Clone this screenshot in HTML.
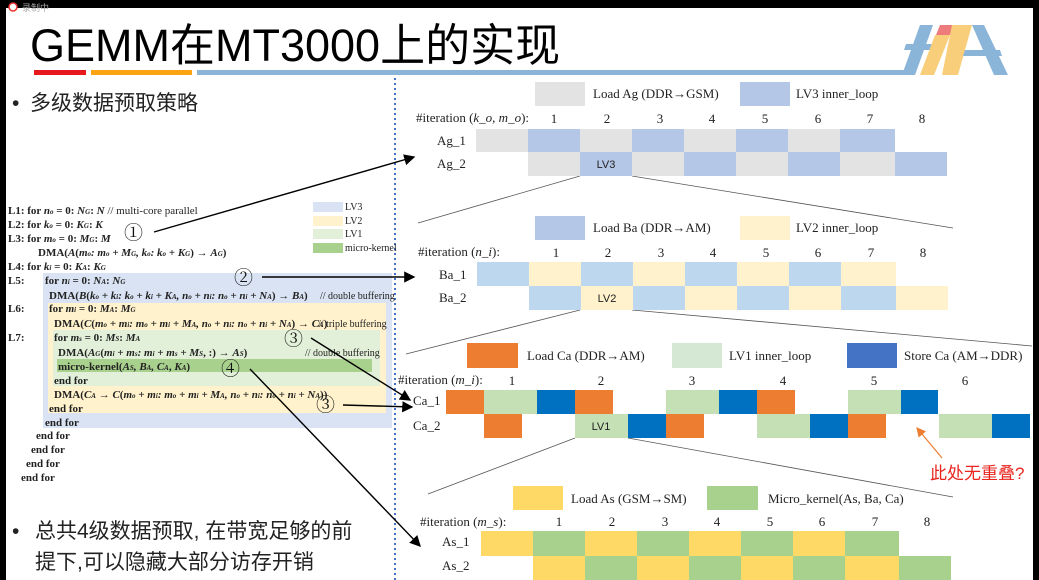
<!DOCTYPE html>
<html><head><meta charset="utf-8"><style>
html,body{margin:0;padding:0;background:#000;}
svg{display:block}
text{font-family:"Liberation Serif","Noto Serif CJK SC",serif}
text:not([fill]){fill:#222}
.s{font-family:"Liberation Sans","Noto Sans CJK SC",sans-serif}
.c{font-size:11px;font-weight:bold}
.l{font-size:13px}
</style></head><body>
<svg width="1039" height="580" viewBox="0 0 1039 580" xmlns="http://www.w3.org/2000/svg">
<rect x="6" y="0" width="1027" height="580" fill="#fff"/>
<rect x="0" y="0" width="1039" height="8" fill="#000"/>
<circle cx="13" cy="7" r="4" fill="#fff" stroke="#e33" stroke-width="1.5"/>
<text x="22" y="11" class="s" font-size="9" fill="#aaa">录制中</text>
<text x="30" y="61" class="s" font-size="45" fill="#000">GEMM在MT3000上的实现</text>
<rect x="34" y="70" width="52" height="5" fill="#e8191d"/>
<rect x="91" y="70" width="101" height="5" fill="#fca411"/>
<rect x="197" y="70" width="710" height="5" fill="#8ab4d8"/>
<polygon points="920,25 933,25 915,75 902,75" fill="#8ab4d8"/>
<polygon points="906,44 940,44 938,50 904,50" fill="#8ab4d8"/>
<polygon points="940,25 954,25 950,35 936,35" fill="#ee7c7c"/>
<polygon points="935,35 950,35 934,75 920,75" fill="#f9ce7b"/>
<polygon points="952,25 962,25 952,75 942,75" fill="#f9ce7b"/>
<polygon points="962,25 972,25 958,75 946,75" fill="#f9ce7b"/>
<polygon points="972,25 984,25 1008,75 994,75" fill="#8ab4d8"/>
<polygon points="965,50 1000,50 1002,56 963,56" fill="#8ab4d8"/>
<line x1="395" y1="78" x2="395" y2="580" stroke="#4472c4" stroke-width="2" stroke-dasharray="2,3"/>
<text x="12" y="110" class="s" font-size="21" fill="#222">• <tspan x="30">多级数据预取策略</tspan></text>
<text x="12" y="538" class="s" font-size="21" fill="#222">• <tspan x="35">总共4级数据预取, 在带宽足够的前</tspan></text>
<text x="35" y="569" class="s" font-size="21" fill="#222">提下,可以隐藏大部分访存开销</text>
<rect x="43" y="273" width="349" height="155" fill="#dae3f3"/>
<rect x="48" y="303" width="338" height="110" fill="#fff2cc"/>
<rect x="53" y="330" width="327" height="56" fill="#e2f0d9"/>
<rect x="57" y="359" width="315" height="13" fill="#a9d18e"/>
<rect x="313" y="202" width="30" height="10" fill="#dae3f3"/>
<rect x="313" y="216" width="30" height="10" fill="#fff2cc"/>
<rect x="313" y="229" width="30" height="10" fill="#e2f0d9"/>
<rect x="313" y="243" width="30" height="10" fill="#a9d18e"/>
<text x="345" y="210" font-size="10">LV3</text>
<text x="345" y="224" font-size="10">LV2</text>
<text x="345" y="237" font-size="10">LV1</text>
<text x="345" y="251" font-size="10">micro-kernel</text>
<g>
<text x="8" y="214" class="c">L1: for <tspan font-style="italic">n<tspan font-size="7">o</tspan></tspan> = 0: <tspan font-style="italic">N<tspan font-size="7">G</tspan></tspan>: <tspan font-style="italic">N</tspan><tspan font-weight="normal">      // multi-core parallel</tspan></text>
<text x="8" y="228" class="c">L2:  for <tspan font-style="italic">k<tspan font-size="7">o</tspan></tspan> = 0: <tspan font-style="italic">K<tspan font-size="7">G</tspan></tspan>: <tspan font-style="italic">K</tspan></text>
<text x="8" y="242" class="c">L3:   for <tspan font-style="italic">m<tspan font-size="7">o</tspan></tspan> = 0: <tspan font-style="italic">M<tspan font-size="7">G</tspan></tspan>: <tspan font-style="italic">M</tspan></text>
<text x="38" y="256" class="c" font-weight="normal">DMA(<tspan font-weight="bold" font-style="italic">A</tspan>(<tspan font-style="italic">m<tspan font-size="7">o</tspan>: m<tspan font-size="7">o</tspan> + M<tspan font-size="7">G</tspan>,  k<tspan font-size="7">o</tspan>: k<tspan font-size="7">o</tspan> + K<tspan font-size="7">G</tspan></tspan>) → <tspan font-weight="bold" font-style="italic">A<tspan font-size="7">G</tspan></tspan>)</text>
<text x="8" y="270" class="c">L4:       for <tspan font-style="italic">k<tspan font-size="7">i</tspan></tspan> = 0: <tspan font-style="italic">K<tspan font-size="7">A</tspan></tspan>: <tspan font-style="italic">K<tspan font-size="7">G</tspan></tspan></text>
<text x="8" y="284" class="c">L5:</text><text x="45" y="284" class="c">for <tspan font-style="italic">n<tspan font-size="7">i</tspan></tspan> = 0: <tspan font-style="italic">N<tspan font-size="7">A</tspan></tspan>: <tspan font-style="italic">N<tspan font-size="7">G</tspan></tspan></text>
<text x="49" y="299" class="c" font-weight="normal">DMA(<tspan font-weight="bold" font-style="italic">B</tspan>(<tspan font-style="italic">k<tspan font-size="7">o</tspan> + k<tspan font-size="7">i</tspan>: k<tspan font-size="7">o</tspan> + k<tspan font-size="7">i</tspan> + K<tspan font-size="7">A</tspan>,  n<tspan font-size="7">o</tspan> + n<tspan font-size="7">i</tspan>: n<tspan font-size="7">o</tspan> + n<tspan font-size="7">i</tspan> + N<tspan font-size="7">A</tspan></tspan>) → <tspan font-weight="bold" font-style="italic">B<tspan font-size="7">A</tspan></tspan>)</text>
<text x="320" y="299" font-size="10">// double buffering</text>
<text x="8" y="312" class="c">L6:</text><text x="49" y="312" class="c">for <tspan font-style="italic">m<tspan font-size="7">i</tspan></tspan> = 0: <tspan font-style="italic">M<tspan font-size="7">A</tspan></tspan>: <tspan font-style="italic">M<tspan font-size="7">G</tspan></tspan></text>
<text x="54" y="327" class="c" font-weight="normal">DMA(<tspan font-weight="bold" font-style="italic">C</tspan>(<tspan font-style="italic">m<tspan font-size="7">o</tspan> + m<tspan font-size="7">i</tspan>: m<tspan font-size="7">o</tspan> + m<tspan font-size="7">i</tspan> + M<tspan font-size="7">A</tspan>,  n<tspan font-size="7">o</tspan> + n<tspan font-size="7">i</tspan>: n<tspan font-size="7">o</tspan> + n<tspan font-size="7">i</tspan> + N<tspan font-size="7">A</tspan></tspan>) → <tspan font-weight="bold" font-style="italic">C<tspan font-size="7">A</tspan></tspan>)</text>
<text x="318" y="327" font-size="10">// triple buffering</text>
<text x="8" y="341" class="c">L7:</text><text x="54" y="341" class="c">for <tspan font-style="italic">m<tspan font-size="7">s</tspan></tspan> = 0: <tspan font-style="italic">M<tspan font-size="7">S</tspan></tspan>: <tspan font-style="italic">M<tspan font-size="7">A</tspan></tspan></text>
<text x="58" y="356" class="c" font-weight="normal">DMA(<tspan font-weight="bold" font-style="italic">A<tspan font-size="7">G</tspan></tspan>(<tspan font-style="italic">m<tspan font-size="7">i</tspan> + m<tspan font-size="7">s</tspan>: m<tspan font-size="7">i</tspan> + m<tspan font-size="7">s</tspan> + M<tspan font-size="7">S</tspan></tspan>, :) → <tspan font-weight="bold" font-style="italic">A<tspan font-size="7">S</tspan></tspan>)</text>
<text x="305" y="356" font-size="10">// double buffering</text>
<text x="58" y="370" class="c" font-weight="normal">micro-kernel(<tspan font-weight="bold" font-style="italic">A<tspan font-size="7">S</tspan>, B<tspan font-size="7">A</tspan>, C<tspan font-size="7">A</tspan></tspan>, <tspan font-style="italic">K<tspan font-size="7">A</tspan></tspan>)</text>
<text x="54" y="384" class="c">end for</text>
<text x="54" y="398" class="c" font-weight="normal">DMA(<tspan font-weight="bold" font-style="italic">C<tspan font-size="7">A</tspan></tspan> → <tspan font-weight="bold" font-style="italic">C</tspan>(<tspan font-style="italic">m<tspan font-size="7">o</tspan> + m<tspan font-size="7">i</tspan>: m<tspan font-size="7">o</tspan> + m<tspan font-size="7">i</tspan> + M<tspan font-size="7">A</tspan>,  n<tspan font-size="7">o</tspan> + n<tspan font-size="7">i</tspan>: n<tspan font-size="7">o</tspan> + n<tspan font-size="7">i</tspan> + N<tspan font-size="7">A</tspan></tspan>))</text>
<text x="49" y="412" class="c">end for</text>
<text x="45" y="426" class="c">end for</text>
<text x="36" y="439" class="c">end for</text>
<text x="31" y="453" class="c">end for</text>
<text x="26" y="467" class="c">end for</text>
<text x="21" y="481" class="c">end for</text>
</g>
<g class="s" font-size="19">
<text x="124" y="239" fill="#111">①</text><text x="234" y="284" fill="#111">②</text><text x="284" y="345" fill="#111">③</text><text x="221" y="375" fill="#111">④</text><text x="316" y="411" fill="#111">③</text>
</g>
<defs><marker id="ar" markerWidth="8" markerHeight="8" refX="7" refY="4" orient="auto"><path d="M0,0 L8,4 L0,8 z" fill="#000"/></marker>
<marker id="ao" markerWidth="8" markerHeight="8" refX="7" refY="4" orient="auto"><path d="M0,0 L8,4 L0,8 z" fill="#ed7d31"/></marker></defs>
<g stroke="#000" stroke-width="1.4" marker-end="url(#ar)">
<line x1="154" y1="232" x2="414" y2="157"/>
<line x1="262" y1="277" x2="414" y2="277"/>
<line x1="311" y1="338" x2="410" y2="400"/>
<line x1="343" y1="405" x2="412" y2="407"/>
<line x1="250" y1="369" x2="420" y2="546"/>
</g>
<g stroke="#555" stroke-width="0.8">
<line x1="580" y1="176" x2="418" y2="223"/><line x1="632" y1="176" x2="953" y2="228"/>
<line x1="580" y1="310" x2="406" y2="354"/><line x1="632" y1="310" x2="1032" y2="346"/>
<line x1="575" y1="438" x2="428" y2="494"/><line x1="628" y1="438" x2="953" y2="497"/>
</g>
<rect x="535" y="82" width="50" height="24" fill="#e3e3e3"/><text x="593" y="98" class="l">Load Ag (DDR→GSM)</text>
<rect x="740" y="82" width="50" height="24" fill="#b4c7e7"/><text x="796" y="98" class="l">LV3 inner_loop</text>
<text x="416" y="122" class="l">#iteration (<tspan font-style="italic">k_o, m_o</tspan>):</text>
<g class="l" text-anchor="middle"><text x="554" y="123">1</text><text x="607" y="123">2</text><text x="660" y="123">3</text><text x="712" y="123">4</text><text x="765" y="123">5</text><text x="818" y="123">6</text><text x="870" y="123">7</text><text x="922" y="123">8</text></g>
<text x="437" y="145" class="l">Ag_1</text><text x="437" y="168" class="l">Ag_2</text>
<g>
<rect x="476" y="129" width="52" height="23" fill="#e3e3e3"/><rect x="528" y="129" width="52" height="23" fill="#b4c7e7"/><rect x="580" y="129" width="52" height="23" fill="#e3e3e3"/><rect x="632" y="129" width="52" height="23" fill="#b4c7e7"/><rect x="684" y="129" width="52" height="23" fill="#e3e3e3"/><rect x="736" y="129" width="52" height="23" fill="#b4c7e7"/><rect x="788" y="129" width="52" height="23" fill="#e3e3e3"/><rect x="840" y="129" width="55" height="23" fill="#b4c7e7"/>
<rect x="528" y="152" width="52" height="24" fill="#e3e3e3"/><rect x="580" y="152" width="52" height="24" fill="#b4c7e7"/><rect x="632" y="152" width="52" height="24" fill="#e3e3e3"/><rect x="684" y="152" width="52" height="24" fill="#b4c7e7"/><rect x="736" y="152" width="52" height="24" fill="#e3e3e3"/><rect x="788" y="152" width="52" height="24" fill="#b4c7e7"/><rect x="840" y="152" width="55" height="24" fill="#e3e3e3"/><rect x="895" y="152" width="52" height="24" fill="#b4c7e7"/>
</g>
<text x="606" y="168" class="s" font-size="11" text-anchor="middle">LV3</text>
<rect x="535" y="216" width="50" height="24" fill="#b4c7e7"/><text x="593" y="232" class="l">Load Ba (DDR→AM)</text>
<rect x="740" y="216" width="50" height="24" fill="#fff2cc"/><text x="796" y="232" class="l">LV2 inner_loop</text>
<text x="418" y="256" class="l">#iteration (<tspan font-style="italic">n_i</tspan>):</text>
<g class="l" text-anchor="middle"><text x="556" y="257">1</text><text x="608" y="257">2</text><text x="661" y="257">3</text><text x="713" y="257">4</text><text x="766" y="257">5</text><text x="818" y="257">6</text><text x="871" y="257">7</text><text x="923" y="257">8</text></g>
<text x="439" y="279" class="l">Ba_1</text><text x="439" y="302" class="l">Ba_2</text>
<rect x="477" y="262" width="52" height="24" fill="#bdd7ee"/><rect x="529" y="262" width="52" height="24" fill="#fff2cc"/><rect x="581" y="262" width="52" height="24" fill="#bdd7ee"/><rect x="633" y="262" width="52" height="24" fill="#fff2cc"/><rect x="685" y="262" width="52" height="24" fill="#bdd7ee"/><rect x="737" y="262" width="52" height="24" fill="#fff2cc"/><rect x="789" y="262" width="52" height="24" fill="#bdd7ee"/><rect x="841" y="262" width="55" height="24" fill="#fff2cc"/>
<rect x="529" y="286" width="52" height="24" fill="#bdd7ee"/><rect x="581" y="286" width="52" height="24" fill="#fff2cc"/><rect x="633" y="286" width="52" height="24" fill="#bdd7ee"/><rect x="685" y="286" width="52" height="24" fill="#fff2cc"/><rect x="737" y="286" width="52" height="24" fill="#bdd7ee"/><rect x="789" y="286" width="52" height="24" fill="#fff2cc"/><rect x="841" y="286" width="55" height="24" fill="#bdd7ee"/><rect x="896" y="286" width="52" height="24" fill="#fff2cc"/>
<text x="607" y="302" class="s" font-size="11" text-anchor="middle">LV2</text>
<rect x="467" y="343" width="51" height="25" fill="#ed7d31"/><text x="527" y="360" class="l">Load Ca (DDR→AM)</text>
<rect x="672" y="343" width="50" height="25" fill="#d5e8d4" /><text x="729" y="360" class="l">LV1 inner_loop</text>
<rect x="847" y="343" width="50" height="25" fill="#4472c4"/><text x="904" y="360" class="l">Store Ca (AM→DDR)</text>
<text x="398" y="384" class="l">#iteration (<tspan font-style="italic">m_i</tspan>):</text>
<g class="l" text-anchor="middle"><text x="512" y="385">1</text><text x="601" y="385">2</text><text x="692" y="385">3</text><text x="783" y="385">4</text><text x="874" y="385">5</text><text x="965" y="385">6</text></g>
<text x="413" y="405" class="l">Ca_1</text><text x="413" y="430" class="l">Ca_2</text>
<rect x="446" y="390" width="38" height="24" fill="#ed7d31"/><rect x="484" y="390" width="53" height="24" fill="#c5e0b4"/><rect x="537" y="390" width="38" height="24" fill="#0070c0"/><rect x="575" y="390" width="38" height="24" fill="#ed7d31"/>
<rect x="666" y="390" width="53" height="24" fill="#c5e0b4"/><rect x="719" y="390" width="38" height="24" fill="#0070c0"/><rect x="757" y="390" width="38" height="24" fill="#ed7d31"/>
<rect x="848" y="390" width="53" height="24" fill="#c5e0b4"/><rect x="901" y="390" width="37" height="24" fill="#0070c0"/>
<rect x="484" y="414" width="38" height="24" fill="#ed7d31"/><rect x="575" y="414" width="53" height="24" fill="#c5e0b4"/><rect x="628" y="414" width="38" height="24" fill="#0070c0"/><rect x="666" y="414" width="38" height="24" fill="#ed7d31"/>
<rect x="757" y="414" width="53" height="24" fill="#c5e0b4"/><rect x="810" y="414" width="38" height="24" fill="#0070c0"/><rect x="848" y="414" width="38" height="24" fill="#ed7d31"/>
<rect x="939" y="414" width="53" height="24" fill="#c5e0b4"/><rect x="992" y="414" width="38" height="24" fill="#0070c0"/>
<text x="601" y="430" class="s" font-size="11" text-anchor="middle">LV1</text>
<line x1="942" y1="458" x2="917" y2="428" stroke="#ed7d31" stroke-width="1.2" marker-end="url(#ao)"/>
<text x="930" y="479" class="s" font-size="17" fill="#e8251f">此处无重叠?</text>
<rect x="513" y="486" width="50" height="24" fill="#ffd966"/><text x="571" y="503" class="l">Load As (GSM→SM)</text>
<rect x="707" y="486" width="51" height="24" fill="#a9d18e"/><text x="768" y="503" class="l">Micro_kernel(As, Ba, Ca)</text>
<text x="420" y="526" class="l">#iteration (<tspan font-style="italic">m_s</tspan>):</text>
<g class="l" text-anchor="middle"><text x="559" y="526">1</text><text x="612" y="526">2</text><text x="665" y="526">3</text><text x="717" y="526">4</text><text x="770" y="526">5</text><text x="822" y="526">6</text><text x="875" y="526">7</text><text x="927" y="526">8</text></g>
<text x="442" y="546" class="l">As_1</text><text x="442" y="570" class="l">As_2</text>
<rect x="481" y="531" width="52" height="25" fill="#ffd966"/><rect x="533" y="531" width="52" height="25" fill="#a9d18e"/><rect x="585" y="531" width="52" height="25" fill="#ffd966"/><rect x="637" y="531" width="52" height="25" fill="#a9d18e"/><rect x="689" y="531" width="52" height="25" fill="#ffd966"/><rect x="741" y="531" width="52" height="25" fill="#a9d18e"/><rect x="793" y="531" width="52" height="25" fill="#ffd966"/><rect x="845" y="531" width="54" height="25" fill="#a9d18e"/>
<rect x="533" y="556" width="52" height="24" fill="#ffd966"/><rect x="585" y="556" width="52" height="24" fill="#a9d18e"/><rect x="637" y="556" width="52" height="24" fill="#ffd966"/><rect x="689" y="556" width="52" height="24" fill="#a9d18e"/><rect x="741" y="556" width="52" height="24" fill="#ffd966"/><rect x="793" y="556" width="52" height="24" fill="#a9d18e"/><rect x="845" y="556" width="54" height="24" fill="#ffd966"/><rect x="899" y="556" width="52" height="24" fill="#a9d18e"/>
</svg>
</body></html>
